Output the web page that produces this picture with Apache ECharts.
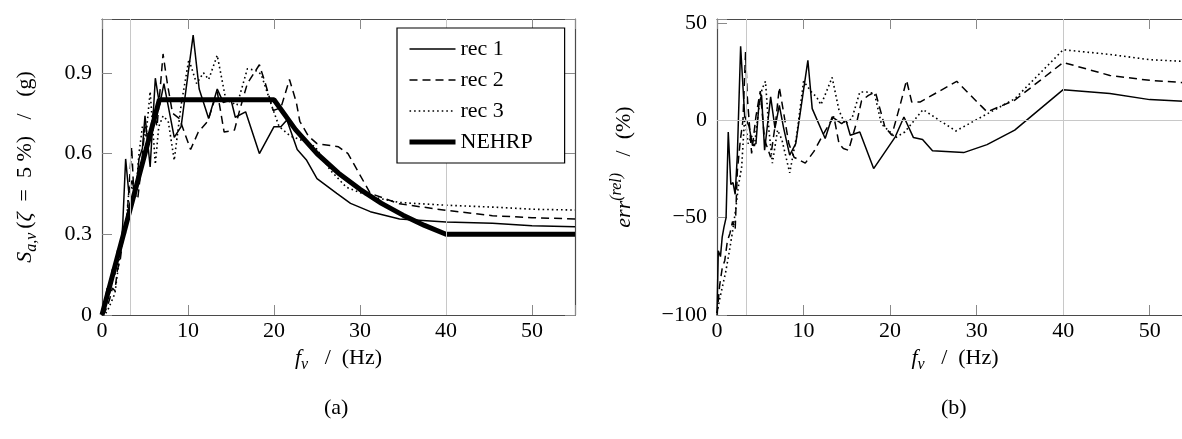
<!DOCTYPE html>
<html><head><meta charset="utf-8">
<script src="https://cdn.jsdelivr.net/npm/echarts@6/dist/echarts.min.js"></script>
<style>html,body{margin:0;padding:0;background:#fff;overflow:hidden}#c{width:1200px;height:439px}</style>
</head><body><div id="c"></div>
<script>
// ---------- data ----------
const seriesNames = ['rec 1', 'rec 2', 'rec 3', 'NEHRP'];
const xTicks = [0, 10, 20, 30, 40, 50];
const saTicks = [0, 0.3, 0.6, 0.9];
const errTicks = [-100, -50, 0, 50];
const guideFreqs = [3.33, 40];
const guideErr = [0];

// (a) spectral acceleration [f (Hz), Sa (g)]
const rec1Sa = [[0,0],[0.3,0.04],[0.6,0.1],[0.9,0.08],[1.2,0.17],[1.5,0.15],[1.8,0.24],[2.1,0.22],[2.4,0.33],[2.75,0.58],[3.1,0.46],[3.5,0.5],[3.9,0.44],[4.3,0.58],[4.7,0.62],[5.0,0.74],[5.6,0.55],[6.2,0.88],[6.7,0.78],[7.2,0.86],[8.4,0.66],[9.2,0.70],[10.6,1.04],[11.3,0.84],[12.4,0.73],[13.4,0.84],[14.1,0.79],[15.0,0.80],[15.5,0.735],[16.7,0.755],[18.3,0.60],[20.0,0.70],[20.8,0.70],[21.5,0.725],[22.7,0.615],[23.8,0.575],[25.0,0.507],[27.3,0.452],[28.9,0.415],[31.2,0.384],[34.6,0.357],[40.0,0.346],[45.4,0.341],[50.0,0.332],[55.0,0.328]];
const rec2Sa = [[0,0],[0.3,0.01],[0.6,0.03],[0.9,0.06],[1.2,0.1],[1.5,0.09],[1.8,0.17],[2.1,0.2],[2.5,0.3],[2.9,0.36],[3.2,0.5],[3.45,0.625],[3.7,0.45],[4.15,0.43],[4.6,0.56],[5.0,0.7],[5.5,0.66],[6.0,0.76],[6.4,0.7],[7.1,0.97],[7.6,0.86],[8.2,0.75],[9.0,0.73],[10.3,0.615],[11.2,0.68],[12.3,0.72],[13.4,0.83],[14.2,0.68],[15.4,0.687],[16.0,0.76],[16.9,0.86],[18.3,0.93],[19.0,0.86],[19.9,0.76],[20.8,0.77],[21.8,0.875],[22.6,0.79],[23.0,0.72],[24.0,0.665],[25.0,0.637],[27.5,0.625],[28.6,0.60],[31.2,0.452],[34.6,0.413],[40.0,0.389],[45.4,0.369],[50.0,0.3615],[55.0,0.357]];
const rec3Sa = [[0,0],[0.3,0.0],[0.7,0.02],[1.1,0.05],[1.5,0.08],[1.9,0.18],[2.3,0.27],[2.7,0.3],[3.1,0.45],[3.5,0.48],[3.9,0.44],[4.3,0.6],[4.7,0.70],[5.1,0.66],[5.6,0.83],[6.2,0.56],[6.6,0.70],[7.1,0.74],[7.7,0.72],[8.4,0.575],[9.2,0.78],[10.1,0.95],[11.0,0.86],[11.8,0.90],[12.4,0.875],[13.4,0.965],[14.4,0.80],[15.7,0.78],[16.9,0.915],[17.8,0.91],[18.5,0.895],[19.7,0.78],[20.6,0.70],[21.9,0.665],[23.6,0.645],[24.8,0.625],[26.5,0.54],[28.4,0.475],[31.2,0.44],[34.6,0.418],[40.0,0.408],[45.4,0.401],[50.0,0.393],[55.0,0.39]];
const nehrpSa = [[0,0],[6.67,0.8],[20,0.8],[22.5,0.689],[25,0.6],[27.5,0.527],[30,0.467],[32.5,0.415],[35,0.371],[37.5,0.333],[40,0.3],[55,0.3]];

// (b) relative error [f (Hz), err (%)]
const rec1Err = [[0,-99],[0.15,-67],[0.4,-70],[0.6,-60],[0.8,-55],[1.05,-50],[1.3,-6],[1.6,-33],[1.85,-32],[2.1,-38],[2.35,-18],[2.73,38],[3.2,2],[3.7,-3],[4.1,-12.8],[4.5,-12],[4.85,8.5],[5.15,12.8],[5.5,-15.4],[6.2,12],[6.7,-4],[7.2,7.7],[7.7,-4],[8.4,-17.9],[9.1,-12],[10.5,30.8],[11.0,6],[12.5,-9.4],[13.3,1.7],[14.4,-1.7],[14.9,0],[15.4,-7.7],[16.5,-6],[18.1,-24.8],[20.6,-8.5],[21.6,1.7],[22.7,-8.9],[23.75,-9.9],[24.9,-15.7],[28.5,-16.6],[31.2,-12.5],[34.4,-5.1],[40,15.7],[45.4,13.7],[50,10.6],[55,9.5]];
const rec2Err = [[0,-100],[0.3,-85],[0.6,-76],[0.9,-72],[1.2,-62],[1.5,-58],[1.8,-52],[2.1,-56],[2.35,-26],[2.7,-10],[3.0,0],[3.3,35],[3.5,12],[4.0,-17],[4.5,2],[5.0,15],[5.5,-10],[6.2,-19],[6.8,0],[7.2,17],[8.3,-12],[8.9,-19],[10.2,-22],[11.2,-16],[12.3,-7],[13.5,2],[14.1,-12],[14.6,-14.5],[15.2,-15.4],[16.2,0],[16.7,10],[17.5,12.8],[18.3,14.5],[19.4,-3.4],[20.2,-7.7],[21.2,8.5],[21.9,20.5],[22.5,9.4],[23.5,9.4],[27.7,20],[30.6,7],[31.2,4.3],[34.4,10.3],[40,29.7],[45.4,23],[50,20.5],[55,19]];
const rec3Err = [[0,-99],[0.3,-92],[0.6,-86],[1.0,-78],[1.4,-68],[1.8,-57],[2.15,-46],[2.5,-33],[2.85,-24],[3.2,2],[3.6,-12],[4.0,-8],[4.3,-14],[4.8,5],[5.2,16],[5.6,20],[6.0,-5],[6.4,-22],[7.0,-5],[7.5,-10],[8.4,-27],[9.2,-8],[10.0,20],[11.0,14],[11.5,12],[12.0,8],[12.4,12],[13.3,22],[14.1,5],[14.8,-2],[15.6,1],[16.5,14.5],[17.3,14.5],[18.2,13.7],[19.0,-2],[20.0,-6],[20.6,-9],[21.7,-6],[23.8,5.5],[27.6,-5.5],[31.1,3],[34.4,11],[40,36.2],[45.4,33.8],[50,31.1],[55,30]];

// ---------- styling ----------
const FONT = '"Liberation Serif", "DejaVu Serif", serif';
const FS = 22;
const frameColor = '#4a4a4a';
const tickColor = '#8a8a8a';
const guideColor = '#c8c8c8';

const richStyles = {
  n:   {fontFamily: FONT, fontSize: 22, color: '#000', lineHeight: 30},
  i:   {fontFamily: FONT, fontSize: 22, fontStyle: 'italic', color: '#000', lineHeight: 30},
  sub: {fontFamily: FONT, fontSize: 16, fontStyle: 'italic', color: '#000', verticalAlign: 'bottom', lineHeight: 30},
  sup: {fontFamily: FONT, fontSize: 16, fontStyle: 'italic', color: '#000', verticalAlign: 'top', lineHeight: 30}
};

function fmtTick(ticks) {
  return function (v) {
    for (const t of ticks) if (Math.abs(t - v) < 1e-9) return String(t).replace('-', '\u2212');
    return '';
  };
}

function xAx(grid, top, name) {
  return {
    type: 'value', gridIndex: grid, position: top ? 'top' : 'bottom',
    min: 0, max: 55, interval: 10,
    axisLine: {show: true, onZero: false, lineStyle: {color: frameColor, width: 1.2}},
    axisTick: {show: true, inside: true, length: 10, lineStyle: {color: tickColor, width: 1}},
    axisLabel: {show: !top, margin: 5, fontFamily: FONT, fontSize: FS, color: '#000', formatter: fmtTick(xTicks)},
    splitLine: {show: false},
    name: top ? '' : name, nameLocation: 'middle', nameGap: 28,
    nameTextStyle: {rich: richStyles}
  };
}
function yAx(grid, right, min, max, interval, ticks, name, gap) {
  return {
    type: 'value', gridIndex: grid, position: right ? 'right' : 'left',
    min: min, max: max, interval: interval,
    axisLine: {show: true, onZero: false, lineStyle: {color: frameColor, width: 1.2}},
    axisTick: {show: true, inside: true, length: 10, lineStyle: {color: tickColor, width: 1}},
    axisLabel: {show: !right, margin: 10, fontFamily: FONT, fontSize: FS, color: '#000', formatter: fmtTick(ticks)},
    splitLine: {show: false},
    name: right ? '' : name, nameLocation: 'middle', nameGap: gap, nameRotate: 90,
    nameTextStyle: {rich: richStyles}
  };
}

const lineStyles = [
  {color: '#000', width: 1.5, type: 'solid'},
  {color: '#000', width: 1.5, type: [8, 5]},
  {color: '#000', width: 1.6, type: [1.6, 3]},
  {color: '#000', width: 5, type: 'solid'}
];

function lineSeries(name, data, xi, yi, k) {
  return {
    name: name, type: 'line', xAxisIndex: xi, yAxisIndex: yi, data: data,
    symbol: 'none', showSymbol: false, lineStyle: lineStyles[k], itemStyle: {color: '#000'},
    z: k === 3 ? 4 : 3, animation: false, silent: true
  };
}
function guideSeries(xi, yi, xs, ys) {
  const d = xs.map(v => ({xAxis: v})).concat(ys.map(v => ({yAxis: v})));
  return {
    type: 'line', xAxisIndex: xi, yAxisIndex: yi, data: [], z: 1, silent: true, animation: false,
    markLine: {silent: true, symbol: 'none', animation: false, label: {show: false},
      lineStyle: {color: guideColor, width: 1, type: 'solid'}, data: d}
  };
}

const chart = echarts.init(document.getElementById('c'), null, {renderer: 'canvas'});
chart.setOption({
  animation: false,
  backgroundColor: '#fff',
  grid: [
    {left: 102, top: 19, width: 473, height: 296},
    {left: 717, top: 19, width: 476, height: 296}
  ],
  xAxis: [
    xAx(0, false, '{i|f}{sub|v}{n|   /  (Hz)}'), xAx(0, true),
    xAx(1, false, '{i|f}{sub|v}{n|   /  (Hz)}'), xAx(1, true)
  ],
  yAxis: [
    yAx(0, false, 0, 1.1, 0.3, saTicks, '{i|S}{sub|a,v }{n|(}{i|ζ}{n|  =  5 %)   /   (g)}', 62),
    yAx(0, true, 0, 1.1, 0.3, saTicks),
    yAx(1, false, -100, 52, 50, errTicks, '{i|err}{sup|(rel)}{n|   /  (%)}', 78),
    yAx(1, true, -100, 52, 50, errTicks)
  ],
  legend: {
    data: seriesNames.map((n, k) => ({name: n, lineStyle: {width: lineStyles[k].width}})),
    orient: 'vertical', left: 397, top: 28,
    backgroundColor: '#fff', borderColor: '#000', borderWidth: 1.2, borderRadius: 0,
    padding: [10, 32, 10, 10], itemWidth: 46, itemHeight: 14, itemGap: 9,
    itemStyle: {opacity: 0},
    textStyle: {fontFamily: FONT, fontSize: FS, color: '#000'},
    selectedMode: false, z: 10
  },
  graphic: [
    {type: 'text', left: 338 - 14, top: 397, style: {text: '(a)', font: FS + 'px ' + FONT, fill: '#000'}},
    {type: 'text', left: 955 - 14, top: 397, style: {text: '(b)', font: FS + 'px ' + FONT, fill: '#000'}}
  ],
  series: [
    guideSeries(0, 0, guideFreqs, []),
    lineSeries('rec 1', rec1Sa, 0, 0, 0),
    lineSeries('rec 2', rec2Sa, 0, 0, 1),
    lineSeries('rec 3', rec3Sa, 0, 0, 2),
    lineSeries('NEHRP', nehrpSa, 0, 0, 3),
    guideSeries(2, 2, guideFreqs, guideErr),
    lineSeries('rec 1', rec1Err, 2, 2, 0),
    lineSeries('rec 2', rec2Err, 2, 2, 1),
    lineSeries('rec 3', rec3Err, 2, 2, 2)
  ]
});
</script>
</body></html>
